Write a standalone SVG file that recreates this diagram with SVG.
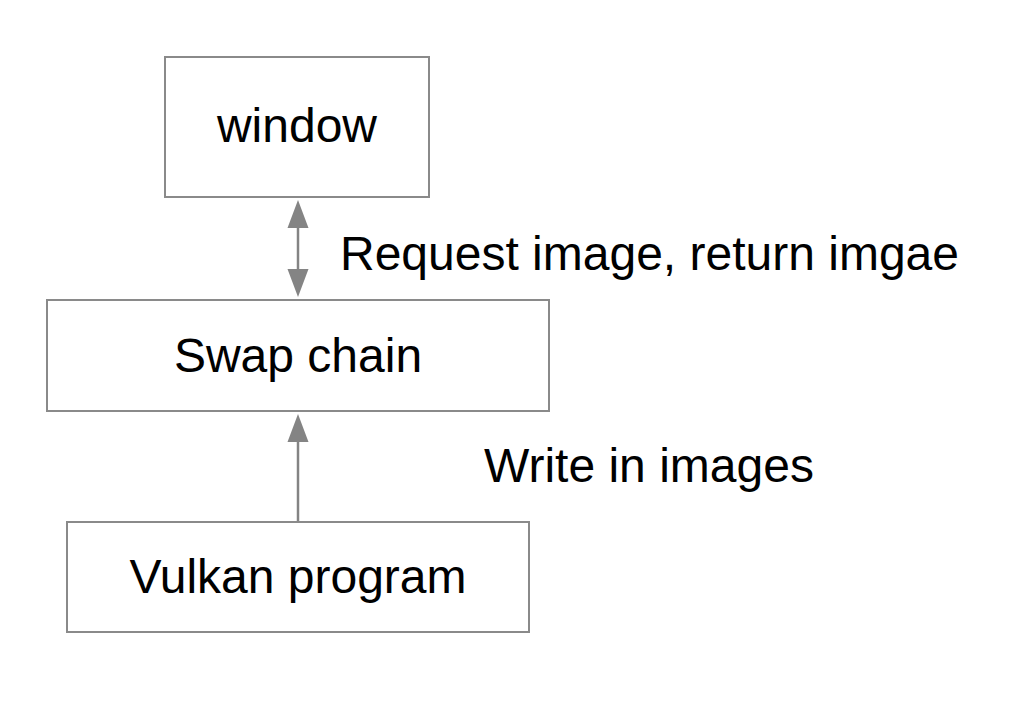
<svg xmlns="http://www.w3.org/2000/svg" width="1018" height="710" viewBox="0 0 1018 710">
<style>
.box{fill:#fff;stroke:#8a8a8a;stroke-width:2}
.t{font-family:"Liberation Sans",Arial,sans-serif;font-size:48px;fill:#000}
.c{text-anchor:middle}
.line{stroke:#848484;stroke-width:2.5;fill:none}
.head{fill:#848484}
</style>
<rect width="1018" height="710" fill="#fff"/>
<g id="connectors">
<line class="line" x1="298" y1="228" x2="298" y2="269"/>
<polygon class="head" points="298,200 287.5,228 308.5,228"/>
<polygon class="head" points="298,297 287.5,269 308.5,269"/>
<line class="line" x1="298" y1="442" x2="298" y2="522"/>
<polygon class="head" points="298,414 287.5,442 308.5,442"/>
<text class="t" x="340" y="270">Request image, return imgae</text>
<text class="t" x="484" y="482">Write in images</text>
</g>
<g id="window">
<rect class="box" x="165" y="57" width="264" height="140"/>
<text class="t c" x="297" y="142">window</text>
</g>
<g id="swapchain">
<rect class="box" x="47" y="300" width="502" height="111"/>
<text class="t c" x="298" y="372">Swap chain</text>
</g>
<g id="vulkan">
<rect class="box" x="67" y="522" width="462" height="110"/>
<text class="t c" x="298" y="593">Vulkan program</text>
</g>
</svg>
